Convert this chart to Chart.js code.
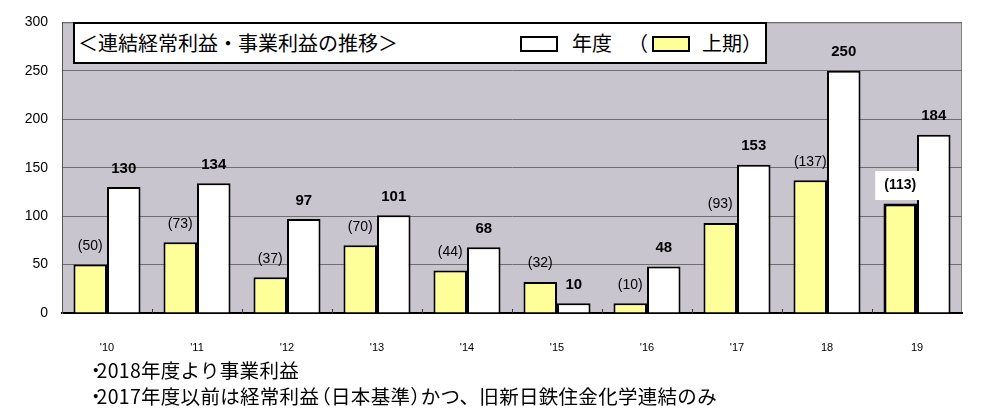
<!DOCTYPE html>
<html>
<head>
<meta charset="utf-8">
<script src="https://cdn.jsdelivr.net/npm/chart.js@4.4.1/dist/chart.umd.min.js"></script>
<style>
    body { margin: 0; background: #fff; }
    #wrap { position: relative; width: 1005px; height: 417px; overflow: hidden; }
    #chart { position: absolute; left: 0; top: 0; }
    .jp { font-family: "Noto Sans CJK JP", "Noto Sans", sans-serif; color: #000; position: absolute; white-space: nowrap; }
    #titleBox { position: absolute; left: 73px; top: 22px; width: 690px; height: 38px; background: #fff; border: 2px solid #000; }
    #title { left: 78px; top: 29px; font-size: 20px; line-height: 28px; }
    .swatch { position: absolute; top: 36px; width: 34px; height: 12px; border: 2px solid #000; }
    .legendText { top: 29px; font-size: 20px; line-height: 28px; }
    .note { left: 86px; font-size: 19.5px; line-height: 22px; letter-spacing: 0.3px; }
    .narrow { letter-spacing: -9px; }
    .narrowL { margin-left: -8px; }
</style>
</head>
<body>
<div id="wrap">
    <canvas id="chart" width="1005" height="417"></canvas>
    <div id="titleBox"></div>
    <div id="title" class="jp">＜連結経常利益・事業利益の推移＞</div>
    <div class="swatch" style="left:520px; background:#fff;"></div>
    <div class="jp legendText" style="left:572px;">年度</div>
    <div class="jp legendText" style="left:628px;">（</div>
    <div class="swatch" style="left:652px; background:#ffff99;"></div>
    <div class="jp legendText" style="left:702px;">上期）</div>
    <div class="jp note" style="top:359px;"><span class="narrow">・</span>2018年度より事業利益</div>
    <div class="jp note" style="top:385px;"><span class="narrow">・</span>2017年度以前は経常利益<span class="narrowL">（</span>日本基準<span class="narrow">）</span>かつ、旧新日鉄住金化学連結のみ</div>
</div>
<script>
    // Years on the x axis
    const years = ["'10", "'11", "'12", "'13", "'14", "'15", "'16", "'17", "18", "19"];
    // First half (上期) values
    const firstHalf = [50, 73, 37, 70, 44, 32, 10, 93, 137, 113];
    // Full year (年度) values
    const fullYear = [130, 134, 97, 101, 68, 10, 48, 153, 250, 184];
    const yTicks = [0, 50, 100, 150, 200, 250, 300];

    const plotBg = {
        id: 'plotBg',
        beforeDraw(chart) {
            const { ctx, chartArea: a } = chart;
            ctx.save();
            ctx.fillStyle = '#c9c5cf';
            ctx.fillRect(a.left, a.top, a.right - a.left, a.bottom - a.top);
            ctx.strokeStyle = '#808080';
            ctx.lineWidth = 1;
            ctx.strokeRect(a.left + 0.5, a.top + 0.5, a.right - a.left - 1, a.bottom - a.top);
            ctx.restore();
        },
        afterDatasetsDraw(chart) {
            // small inward tick marks between categories
            const { ctx, chartArea: a } = chart;
            const x = chart.scales.x;
            const step = (a.right - a.left) / years.length;
            ctx.save();
            ctx.strokeStyle = '#333';
            ctx.lineWidth = 1;
            for (let i = 1; i < years.length; i++) {
                const px = Math.round(x.getPixelForValue(i) - step / 2) + 0.5;
                ctx.beginPath();
                ctx.moveTo(px, a.bottom);
                ctx.lineTo(px, a.bottom - 4);
                ctx.stroke();
            }
            ctx.restore();
        }
    };

    const barLabels = {
        id: 'barLabels',
        afterDatasetsDraw(chart) {
            const ctx = chart.ctx;
            ctx.save();
            ctx.textAlign = 'center';
            ctx.textBaseline = 'middle';
            chart.data.datasets.forEach((ds, di) => {
                const meta = chart.getDatasetMeta(di);
                meta.data.forEach((bar, i) => {
                    const v = ds.data[i];
                    const y = bar.y - 18.5;
                    if (di === 0) {
                        const txt = '(' + v + ')';
                        if (i === ds.data.length - 1) {
                            ctx.fillStyle = '#fff';
                            ctx.fillRect(bar.x - 25, y - 14, 46, 29);
                            ctx.font = 'bold 14px "Liberation Sans", Arial, sans-serif';
                        } else {
                            ctx.font = '14px "Liberation Sans", Arial, sans-serif';
                        }
                        ctx.fillStyle = '#000';
                        ctx.fillText(txt, bar.x, y);
                    } else {
                        ctx.font = 'bold 15px "Liberation Sans", Arial, sans-serif';
                        ctx.fillStyle = '#000';
                        ctx.fillText(String(v), bar.x, y);
                    }
                });
            });
            ctx.restore();
        }
    };

    new Chart(document.getElementById('chart'), {
        type: 'bar',
        data: {
            labels: years,
            datasets: [{
                label: '上期',
                data: firstHalf,
                backgroundColor: '#ffff99',
                borderColor: '#000',
                borderWidth: firstHalf.map((v, i) => i === firstHalf.length - 1 ? 3 : 2),
                borderSkipped: 'bottom'
            }, {
                label: '年度',
                data: fullYear,
                backgroundColor: '#ffffff',
                borderColor: '#000',
                borderWidth: 2,
                borderSkipped: 'bottom'
            }]
        },
        options: {
            responsive: false,
            devicePixelRatio: 1,
            animation: false,
            layout: { padding: { top: 20, right: 43, left: 0, bottom: 0 } },
            plugins: {
                legend: { display: false },
                tooltip: { enabled: false }
            },
            datasets: {
                bar: { categoryPercentage: 0.745, barPercentage: 1.0 }
            },
            scales: {
                x: {
                    afterFit(scale) { scale.height = 104; },
                    grid: { drawOnChartArea: false, drawTicks: false },
                    border: { display: true, color: '#000', width: 2 },
                    ticks: {
                        padding: 28,
                        color: '#000',
                        font: { family: '"Liberation Sans", Arial, sans-serif', size: 11 }
                    }
                },
                y: {
                    min: 0,
                    max: 300,
                    afterFit(scale) { scale.width = 62; },
                    afterBuildTicks(scale) { scale.ticks = yTicks.map(v => ({ value: v })); },
                    grid: { color: '#6e6e6e', lineWidth: 1, drawTicks: false },
                    border: { display: true, color: '#555', width: 1 },
                    ticks: {
                        padding: 14,
                        color: '#000',
                        font: { family: '"Liberation Sans", Arial, sans-serif', size: 14 }
                    }
                }
            }
        },
        plugins: [plotBg, barLabels]
    });
</script>
</body>
</html>
